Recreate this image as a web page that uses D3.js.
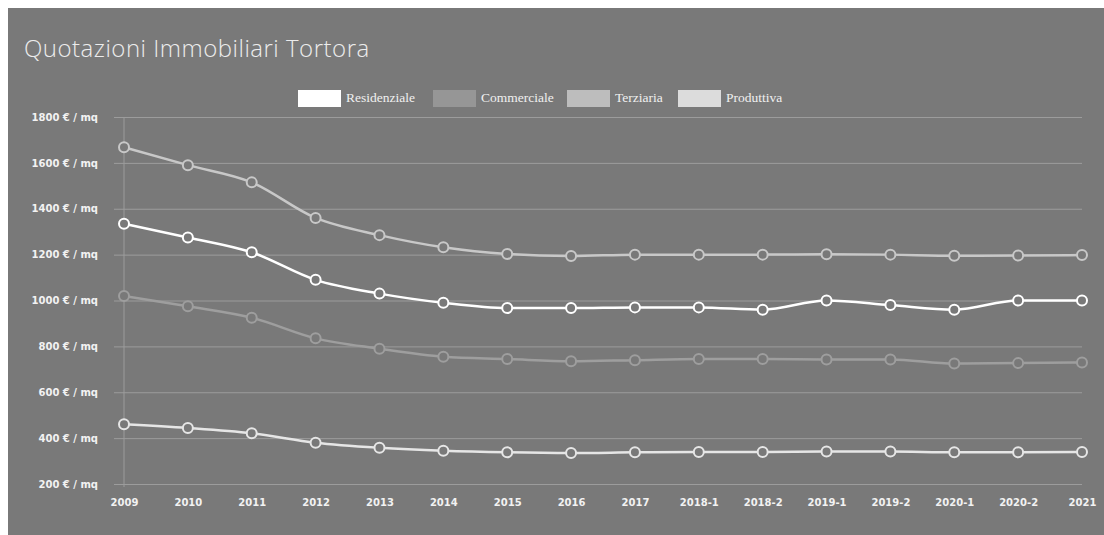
<!DOCTYPE html>
<html>
<head>
  <meta charset="utf-8">
  <title>Quotazioni Immobiliari Tortora</title>
  <script src="https://cdn.jsdelivr.net/npm/d3@7"></script>
  <style>
    body { margin: 0; background: #fff; }
    .axis text { fill: #f2f2f2; font-family: "DejaVu Sans", Verdana, sans-serif; font-weight: bold; font-size: 10px; }
    .axis line { stroke: #9c9c9c; }
    .legend text { fill: #f0f0f0; font-family: "Liberation Serif", "Times New Roman", serif; font-size: 13.5px; }
  </style>
</head>
<body>
<svg id="chart"></svg>
<script>
  var categories = ['2009', '2010', '2011', '2012', '2013', '2014', '2015', '2016', '2017',
    '2018-1', '2018-2', '2019-1', '2019-2', '2020-1', '2020-2', '2021'];

  var residenziale = [1335, 1275, 1210, 1090, 1030, 990, 967, 967, 970, 970, 960, 1000, 980, 960, 1000, 1000];
  var commerciale = [1020, 975, 925, 835, 790, 755, 745, 735, 740, 745, 745, 743, 743, 725, 727, 730];
  var terziaria = [1668, 1590, 1515, 1360, 1285, 1232, 1203, 1194, 1200, 1200, 1200, 1202, 1200, 1195, 1196, 1198];
  var produttiva = [460, 444, 421, 380, 358, 345, 338, 335, 338, 340, 340, 342, 342, 338, 338, 340];

  var seriesNames = ['Residenziale', 'Commerciale', 'Terziaria', 'Produttiva'];
  var seriesColors = ['#ffffff', '#9e9e9e', '#c8c8c8', '#e6e6e6'];
  var legendColors = ['#ffffff', '#969696', '#bdbdbd', '#dcdcdc'];
  var yTicks = [200, 400, 600, 800, 1000, 1200, 1400, 1600, 1800];

  var series = [residenziale, commerciale, terziaria, produttiva].map(function (v, i) {
    return { name: seriesNames[i], color: seriesColors[i], legend: legendColors[i], values: v };
  });

  var W = 1104, H = 535;
  var svg = d3.select('#chart').attr('width', W).attr('height', H);

  // panel
  svg.append('rect')
    .attr('x', 8).attr('y', 8)
    .attr('width', W - 8).attr('height', H - 8)
    .attr('fill', '#797979');

  svg.append('text')
    .attr('x', 24).attr('y', 57)
    .attr('fill', '#ececec')
    .style('font-family', '"Open Sans", sans-serif')
    .style('font-weight', 300)
    .style('font-size', '24px')
    .style('letter-spacing', '0.5px')
    .text('Quotazioni Immobiliari Tortora');

  var x = d3.scalePoint()
    .domain(categories)
    .range([124, 1082]);

  var y = d3.scaleLinear()
    .domain([200, 1800])
    .range([484, 117]);

  var yAxis = d3.axisLeft(y)
    .tickValues(yTicks)
    .tickSize(-(1082 - 114))
    .tickPadding(16)
    .tickFormat(function (d) { return d + ' € / mq'; });

  svg.append('g')
    .attr('class', 'axis')
    .attr('transform', 'translate(114,0)')
    .call(yAxis)
    .call(function (g) { g.select('.domain').remove(); });

  var xAxis = d3.axisBottom(x)
    .tickSize(0)
    .tickPadding(15);

  svg.append('g')
    .attr('class', 'axis')
    .attr('transform', 'translate(0,484)')
    .call(xAxis)
    .call(function (g) { g.select('.domain').remove(); });

  // y axis line
  svg.append('line')
    .attr('x1', x(categories[0])).attr('x2', x(categories[0]))
    .attr('y1', y(1800)).attr('y2', y(200) + 3)
    .attr('stroke', '#9c9c9c');

  var line = d3.line()
    .x(function (d, i) { return x(categories[i]); })
    .y(function (d) { return y(d); })
    .curve(d3.curveMonotoneX);

  var g = svg.selectAll('.series')
    .data(series)
    .enter()
    .append('g')
    .attr('class', 'series');

  g.append('path')
    .attr('d', function (d) { return line(d.values); })
    .attr('fill', 'none')
    .attr('stroke', function (d) { return d.color; })
    .attr('stroke-width', 2.5);

  g.selectAll('circle')
    .data(function (d) { return d.values.map(function (v, i) { return { v: v, i: i, color: d.color }; }); })
    .enter()
    .append('circle')
    .attr('cx', function (d) { return x(categories[d.i]); })
    .attr('cy', function (d) { return y(d.v); })
    .attr('r', 5)
    .attr('fill', '#797979')
    .attr('stroke', function (d) { return d.color; })
    .attr('stroke-width', 2);

  // legend
  var legendX = [298, 433, 567, 678];
  var legend = svg.selectAll('.legend')
    .data(series)
    .enter()
    .append('g')
    .attr('class', 'legend')
    .attr('transform', function (d, i) { return 'translate(' + legendX[i] + ',90)'; });

  legend.append('rect')
    .attr('width', 43).attr('height', 17)
    .attr('fill', function (d) { return d.legend; });

  legend.append('text')
    .attr('x', 48).attr('y', 12)
    .text(function (d) { return d.name; });
</script>
</body>
</html>
